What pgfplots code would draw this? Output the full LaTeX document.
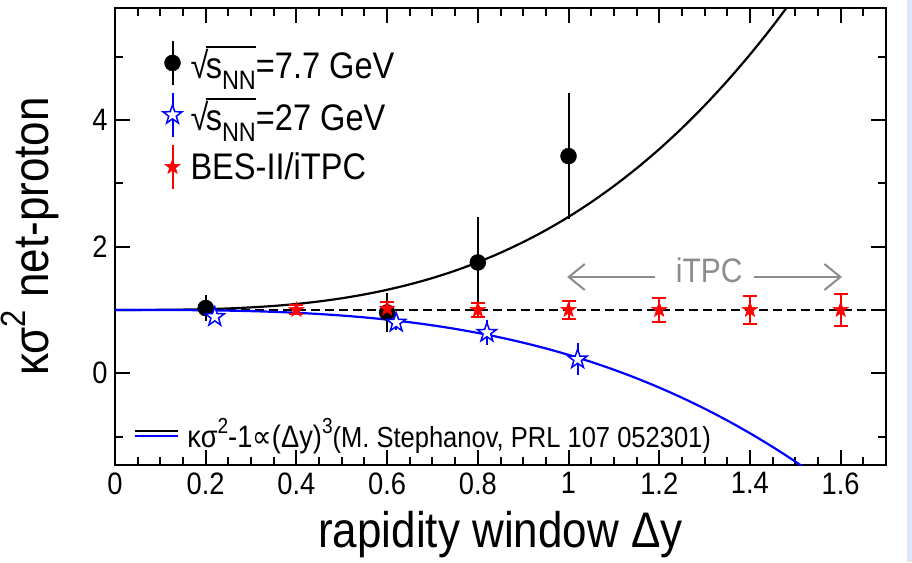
\documentclass[border=0pt]{standalone}
\usepackage{fontspec}
\setmainfont{Liberation Sans}[FakeStretch=0.88]
\newfontfamily\symfont{DejaVu Sans}[FakeStretch=0.88]
\usepackage{pgfplots}
\pgfplotsset{compat=1.18}
\usetikzlibrary{arrows.meta}

\definecolor{stripblue}{RGB}{220,232,246}
\definecolor{annogray}{RGB}{140,140,140}

% five-pointed star marker
\pgfdeclareplotmark{fivestar}{%
  \pgfpathmoveto{\pgfpointpolar{90}{\pgfplotmarksize}}%
  \pgfpathlineto{\pgfpointpolar{126}{0.40\pgfplotmarksize}}%
  \pgfpathlineto{\pgfpointpolar{162}{\pgfplotmarksize}}%
  \pgfpathlineto{\pgfpointpolar{198}{0.40\pgfplotmarksize}}%
  \pgfpathlineto{\pgfpointpolar{234}{\pgfplotmarksize}}%
  \pgfpathlineto{\pgfpointpolar{270}{0.40\pgfplotmarksize}}%
  \pgfpathlineto{\pgfpointpolar{306}{\pgfplotmarksize}}%
  \pgfpathlineto{\pgfpointpolar{342}{0.40\pgfplotmarksize}}%
  \pgfpathlineto{\pgfpointpolar{18}{\pgfplotmarksize}}%
  \pgfpathlineto{\pgfpointpolar{54}{0.40\pgfplotmarksize}}%
  \pgfpathclose
  \pgfusepathqfillstroke
}

\newcommand\sq[1]{\raisebox{0.45em}{\scalebox{0.7}{#1}}}
\newsavebox\snnbox
\newcommand\sNN{\sbox\snnbox{s\raisebox{-0.3em}{\scalebox{0.72}{NN}}}%
  √\kern-0.07em\rlap{\rule[0.80em]{\wd\snnbox}{0.06em}}\usebox\snnbox}

% net-proton kappa sigma^2 versus rapidity window
\pgfplotstableread{
x    y     e
0.2  1.03  0.20
0.6  0.96  0.31
0.8  1.75  0.72
1.0  3.43  1.00
}\tabseven
\pgfplotstableread{
x     y     e
0.22  0.89  0.06
0.62  0.80  0.11
0.82  0.64  0.20
1.02  0.22  0.25
}\tabtwentyseven
\pgfplotstableread{
x    y     e
0.4  1.00  0.07
0.6  1.02  0.10
0.8  1.00  0.11
1.0  1.00  0.14
1.2  1.00  0.19
1.4  1.00  0.22
1.6  1.00  0.25
}\tabitpc

\pgfplotsset{
  kframe/.style={
    scale only axis, width=771pt, height=457pt,
    at={(115pt,97pt)}, anchor=south west,
    xmin=0, xmax=1.7, ymin=-1.45, ymax=5.77,
  },
  errleg/.style={
    legend image code/.code={%
      \path[draw=none,fill=none] (0pt,-1pt) rectangle (24pt,1pt);
      \draw[mark=none,line width=2pt] (8pt,-22pt) -- (8pt,22pt);
      \draw[mark repeat=2,mark phase=2] plot coordinates {(0pt,0pt) (8pt,0pt) (16pt,0pt)};
    }
  },
}

\begin{document}
\begin{tikzpicture}
\fill[white] (0,0) rectangle (912pt,562pt);
\fill[stripblue] (907pt,0) rectangle (912pt,562pt);

% frame, ticks, reference line and the (Delta y)^3 curves
\begin{axis}[kframe,
  axis line style={line width=2pt},
  xtick={0,0.2,0.4,0.6,0.8,1,1.2,1.4,1.6},
  minor xtick={0.05,0.1,0.15,0.25,0.3,0.35,0.45,0.5,0.55,0.65,0.7,0.75,0.85,0.9,0.95,1.05,1.1,1.15,1.25,1.3,1.35,1.45,1.5,1.55,1.65},
  ytick={0,2,4}, minor ytick={-1,1,3,5},
  tick align=inside,
  major tick length=15pt, minor tick length=8pt,
  every tick/.style={black,line width=2pt},
  /pgf/number format/assume math mode=true,
  ticklabel style={font=\fontsize{31}{36}\selectfont},
  xticklabel style={yshift=-4pt},
  yticklabel style={xshift=-4pt},
  xlabel={rapidity window Δy},
  ylabel={κσ\sq{2} net-proton},
  label style={font=\fontsize{50}{58}\selectfont},
  xlabel style={at={(axis description cs:0.5,0)}, anchor=base, yshift=-82pt},
  ylabel style={at={(axis description cs:-0.110,0.5)}, anchor=center},
  legend style={draw=none, fill=none, at={(0.025,0.068)}, anchor=west,
    inner sep=0pt},
  legend cell align=left,
]
\addplot[black, dashed, dash pattern=on 9pt off 5pt, line width=2pt, forget plot]
  coordinates {(0,1) (1.7,1)};

\addplot[black, line width=2.2pt, smooth, forget plot] coordinates {
 (0,1) (0.05,1.0002) (0.1,1.0015) (0.15,1.005) (0.2,1.012) (0.25,1.023)
 (0.3,1.040) (0.35,1.063) (0.4,1.094) (0.45,1.134) (0.5,1.184) (0.55,1.245)
 (0.6,1.318) (0.65,1.404) (0.7,1.504) (0.75,1.620) (0.8,1.753) (0.85,1.903)
 (0.9,2.072) (0.95,2.260) (1.0,2.470) (1.05,2.702) (1.1,2.957) (1.15,3.236)
 (1.2,3.540) (1.25,3.871) (1.3,4.230) (1.35,4.617) (1.4,5.034) (1.45,5.481)
 (1.5,5.961)};

\addplot[blue, line width=2.2pt, smooth,
  legend image code/.code={%
    \path[draw=none,fill=none] (0pt,-1pt) rectangle (50pt,1pt);
    \draw[black,line width=2pt] (0pt,2.5pt) -- (43pt,2.5pt);
    \draw[blue,line width=2pt] (0pt,-2pt) -- (43pt,-2pt);}]
 coordinates {
 (0,1) (0.05,0.9999) (0.1,0.9993) (0.15,0.9976) (0.2,0.9943) (0.25,0.9889)
 (0.3,0.9808) (0.35,0.9696) (0.4,0.9546) (0.45,0.9353) (0.5,0.9113) (0.55,0.8819)
 (0.6,0.8466) (0.65,0.805) (0.7,0.7565) (0.75,0.7005) (0.8,0.6365) (0.85,0.564)
 (0.9,0.4824) (0.95,0.3913) (1.0,0.29) (1.05,0.1781) (1.1,0.055) (1.15,-0.0798)
 (1.2,-0.2269) (1.25,-0.3867) (1.3,-0.5599) (1.35,-0.7469) (1.4,-0.9482)
 (1.45,-1.1645) (1.5,-1.396) (1.55,-1.644)};
\addlegendentry{{\fontsize{31}{36}\selectfont κσ\sq{2}-1{\symfont ∝}(Δy)\sq{3}}{\fontsize{29}{32}\selectfont(M. Stephanov, PRL 107 052301)}}

% iTPC acceptance range
\draw[annogray, line width=2pt, -{Straight Barb[length=16pt,width=26pt]}]
  (axis cs:1.19,1.52) -- (axis cs:0.997,1.52);
\draw[annogray, line width=2pt, -{Straight Barb[length=16pt,width=26pt]}]
  (axis cs:1.41,1.52) -- (axis cs:1.603,1.52);
\node[annogray, font=\fontsize{34}{40}\selectfont] at (axis cs:1.31,1.63) {iTPC};
\end{axis}

% measured points
\begin{axis}[kframe, hide axis,
  legend style={draw=none, fill=none, at={(0.062,0.766)}, anchor=west,
    font=\fontsize{37}{44}\selectfont, row sep=6pt, inner sep=0pt},
  legend cell align=left,
]
\addplot[only marks, mark=*, mark size=8pt, black, errleg,
  error bars/.cd, y dir=both, y explicit, error mark=none,
  error bar style={line width=2pt}]
  table[x=x, y=y, y error=e] {\tabseven};
\addlegendentry{\sNN=7.7 GeV}

\addplot[only marks, mark=fivestar, mark size=10pt, blue,
  mark options={fill=white, line width=1.5pt}, errleg,
  error bars/.cd, y dir=both, y explicit, error mark=none,
  error bar style={line width=2pt}]
  table[x=x, y=y, y error=e] {\tabtwentyseven};
\addlegendentry{\sNN=27 GeV}

\addplot[only marks, mark=fivestar, mark size=8pt, red,
  mark options={fill=red, line width=0.5pt}, errleg,
  error bars/.cd, y dir=both, y explicit, error mark=|,
  error mark options={mark size=7pt, line width=2pt, red},
  error bar style={line width=2pt}]
  table[x=x, y=y, y error=e] {\tabitpc};
\addlegendentry{BES-II/iTPC}
\end{axis}

\pgfresetboundingbox
\useasboundingbox (0,0) rectangle (912pt,562pt);
\end{tikzpicture}
\end{document}
